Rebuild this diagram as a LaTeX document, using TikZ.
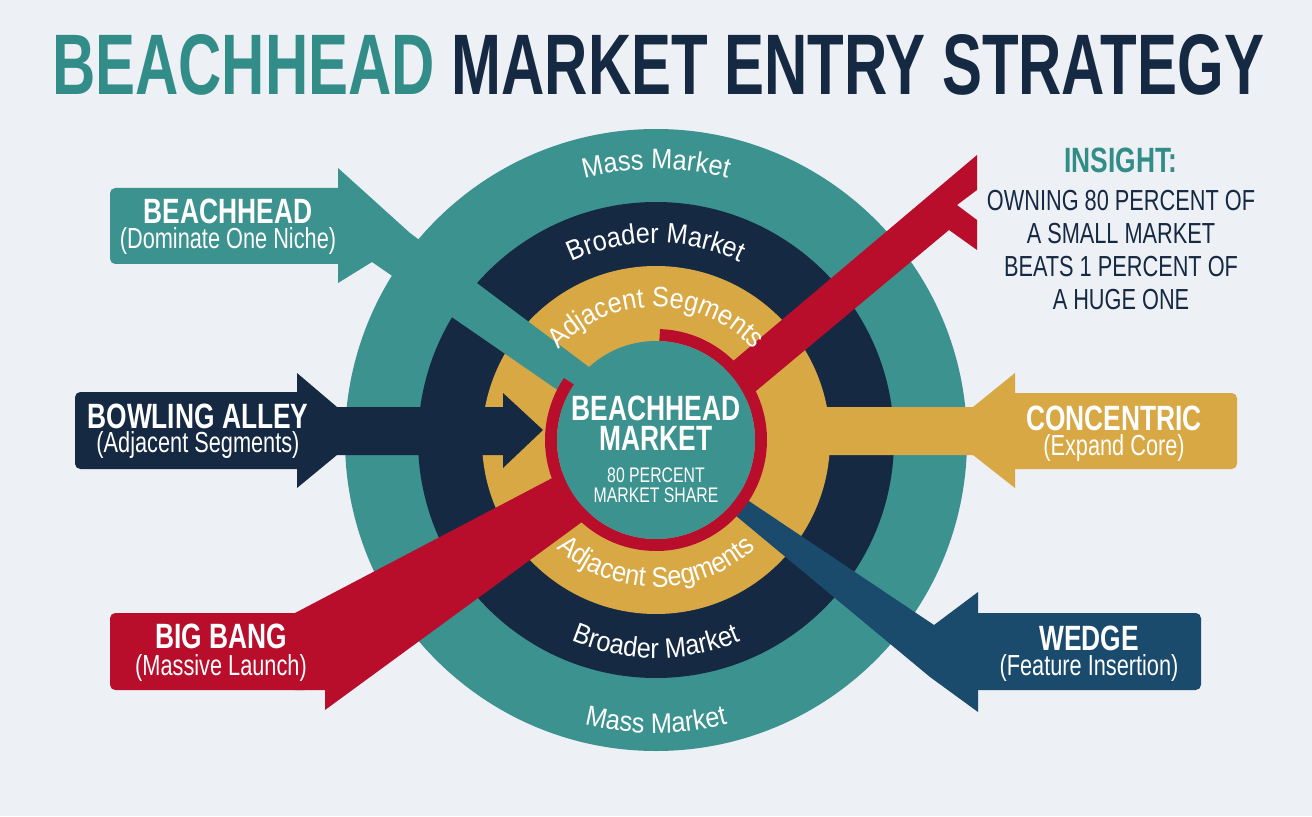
\documentclass[tikz,border=0pt]{standalone}
\usepackage{graphicx}
\usepackage{fontspec}
\setmainfont{Liberation Sans}[FakeStretch=0.75]
\newfontfamily\ringfont{Liberation Sans}[FakeStretch=0.9]
\newfontfamily\titlefont{Liberation Sans}
\usetikzlibrary{calc, decorations.text}

\definecolor{paper}{RGB}{237, 240, 244}
\definecolor{ringteal}{RGB}{60, 146, 142}
\definecolor{titleteal}{RGB}{50, 141, 137}
\definecolor{ringnavy}{RGB}{22, 41, 66}
\definecolor{ringgold}{RGB}{216, 168, 68}
\definecolor{bangred}{RGB}{184, 14, 44}
\definecolor{wedgeblue}{RGB}{26, 74, 108}

\tikzset{
  boxhead/.style={anchor=base, inner sep=0pt, text=white, font=\fontsize{20}{20}\selectfont\bfseries},
  boxsub/.style={anchor=base, inner sep=0pt, text=white, font=\fontsize{16.5}{16.5}\selectfont},
  ringlabel/.style={decorate, decoration={text along path, text align=center, text color=white,
    text={|\ringfont\fontsize{16}{16}\selectfont|#1}}}
}

\begin{document}
\begin{tikzpicture}[x=0.02cm, y=0.02cm]
  \useasboundingbox (0,0) rectangle (1312,816);
  \fill[paper] (0,0) rectangle (1312,816);

  % Title
  \node[inner sep=0pt] (title) at (658,751) {\resizebox{24.24cm}{1.2cm}{\titlefont\bfseries\color{titleteal}BEACHHEAD \color{ringnavy}MARKET ENTRY STRATEGY}};

  % Market rings
  \coordinate (core) at (656,376);
  \fill[ringteal] (core) circle[radius=311];
  \fill[ringnavy] (core) circle[radius=238];
  \fill[ringgold] (core) circle[radius=174];

  % Beachhead arrow
  \fill[ringteal, rounded corners=3pt] (110,552) rectangle (345,628);
  \fill[ringteal] (338,648) -- (410,583) -- (605,437) -- (588,405) -- (372,554) -- (338,533) -- cycle;

  % Bowling alley arrow
  \fill[ringnavy, rounded corners=3pt] (75,347) rectangle (305,424);
  \fill[ringnavy] (297,443) -- (337,409) -- (503,409) -- (503,423) -- (543,386) -- (503,348) -- (503,361) -- (337,361) -- (297,328) -- cycle;

  % Concentric arrow
  \fill[ringgold, rounded corners=3pt] (1005,347) rectangle (1237,423);
  \fill[ringgold] (1015,443) -- (973,409) -- (760,409) -- (760,361) -- (973,361) -- (1015,328) -- cycle;

  % Wedge arrow
  \fill[wedgeblue, rounded corners=3pt] (970,126) rectangle (1201,203);
  \fill[wedgeblue] (978,224) -- (934,191) -- (725,331) -- (735,301) -- (930,139) -- (978,104) -- cycle;

  % Big bang arrow, through the core
  \fill[bangred, rounded corners=3pt] (110,126) rectangle (310,203);
  \fill[bangred] (295,203) -- (600,363) -- (612,316) -- (325,106) -- (325,126) -- (295,126) -- cycle;
  \fill[bangred] (700,427) -- (977,661) -- (977,626) -- (957,611) -- (977,596) -- (977,566) -- (949,586) -- (720,395) -- cycle;

  % Beachhead core
  \draw[bangred, line width=0.24cm] (core) ++(88:105) arc[start angle=88, end angle=-214, radius=105];
  \fill[ringteal] (core) circle[radius=99];

  % Ring labels
  \path[ringlabel={Mass Market}] (core) ++(130:271) arc[start angle=130, end angle=50, radius=271];
  \path[ringlabel={Broader Market}] (core) ++(140:197) arc[start angle=140, end angle=40, radius=197];
  \path[ringlabel={Adjacent Segments}] (core) ++(170:133) arc[start angle=170, end angle=10, radius=133];
  \path[ringlabel={Adjacent Segments}] (core) ++(190:147) arc[start angle=190, end angle=350, radius=147];
  \path[ringlabel={Broader Market}] (core) ++(205:218) arc[start angle=205, end angle=335, radius=218];
  \path[ringlabel={Mass Market}] (core) ++(220:293) arc[start angle=220, end angle=320, radius=293];

  % Core text
  \node[boxhead] (coretop) at (656,396) {BEACHHEAD};
  \node[boxhead] (corebottom) at (656,366) {MARKET};
  \node[anchor=base, inner sep=0pt, text=white, font=\fontsize{12}{12}\selectfont] (coreshare) at (656,334) {80 PERCENT};
  \node[anchor=base, inner sep=0pt, text=white, font=\fontsize{12}{12}\selectfont] (coreshare2) at (656,314) {MARKET SHARE};

  % Arrow labels
  \node[boxhead] (bhhead) at (228,592) {BEACHHEAD};
  \node[boxsub] (bhsub) at (228,567) {(Dominate One Niche)};
  \node[boxhead] (bahead) at (198,388) {BOWLING ALLEY};
  \node[boxsub] (basub) at (198,364) {(Adjacent Segments)};
  \node[boxhead] (bbhead) at (221,168) {BIG BANG};
  \node[boxsub] (bbsub) at (221,141) {(Massive Launch)};
  \node[boxhead] (cchead) at (1114,386) {CONCENTRIC};
  \node[boxsub] (ccsub) at (1114,361) {(Expand Core)};
  \node[boxhead] (wghead) at (1089,166) {WEDGE};
  \node[boxsub] (wgsub) at (1089,141) {(Feature Insertion)};

  % Insight
  \node[boxhead, text=titleteal] (insight) at (1121,643) {INSIGHT:};
  \node[font=\fontsize{16.5}{18.7}\selectfont, text=ringnavy, align=center, anchor=north, inner sep=0pt] (insighttext) at (1121,626) {OWNING 80 PERCENT OF\\A SMALL MARKET\\BEATS 1 PERCENT OF\\A HUGE ONE};
\end{tikzpicture}
\end{document}
